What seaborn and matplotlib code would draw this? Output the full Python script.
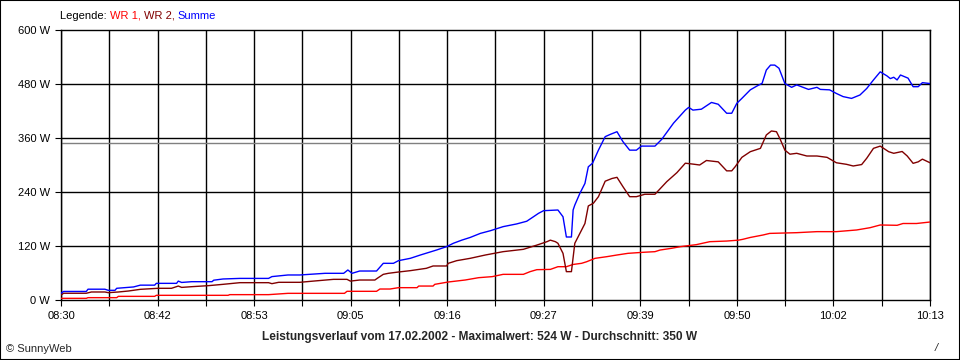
import numpy as np
import pandas as pd
import matplotlib
matplotlib.use("Agg")
import matplotlib.pyplot as plt
from matplotlib.patches import Rectangle
import seaborn as sns

# Minutes after 08:30 and power in W
wr1_min = [0, 3.0, 3.2, 6.6, 6.8, 11.1, 11.3, 19.8, 20.0, 24.6, 26.9, 28.3, 33.6, 33.9, 37.4,
           37.8, 39.0, 40.0, 42.2, 42.4, 44.1, 44.3, 45.9, 47.9, 49.5, 51.1, 52.4, 54.8, 55.6,
           56.4, 58.0, 58.9, 59.9, 60.7, 61.7, 62.3, 63.3, 64.7, 65.9, 67.2, 69.0, 70.4, 71.0,
           72.4, 73.4, 75.3, 76.9, 78.9, 80.3, 80.8, 81.7, 83.2, 84.0, 87.2, 89.6, 91.9, 94.3,
           95.9, 97.1, 99.1, 99.8, 101.4, 103]
wr1_w = [3.7, 3.7, 5.2, 5.2, 8.1, 8.1, 10.4, 10.4, 11.9, 11.9, 14.8, 14.8, 14.8, 19.3, 19.3,
         24.4, 24.4, 27.4, 27.4, 31, 31, 34.8, 40, 44.4, 49.6, 51.9, 57, 57, 63,
         67.4, 68, 74, 74, 79, 81.5, 85, 92.6, 96.3, 100, 103.7, 106, 107.4, 111,
         115, 118.5, 123, 129.6, 131, 133, 134.8, 139, 144.4, 148, 149.6, 151.9, 151.9, 155.6,
         160.7, 166.7, 166, 170, 170, 173.3]

wr2_min = [0, 0.3, 3.0, 3.6, 5.2, 5.6, 6.8, 8.0, 9.4, 11.5, 13.1, 13.9, 14.3, 15.5, 17.5, 19.2,
           21.2, 24.6, 25.0, 25.8, 28.3, 29.9, 32.3, 33.9, 34.3, 35.4, 37.2, 37.6, 38.2, 38.8,
           40.0, 41.4, 43.3, 44.1, 45.7, 45.9, 46.9, 48.5, 50.3, 52.4, 54.8, 56.4, 57.6, 58.0,
           58.6, 58.9, 59.5, 59.9, 60.5, 60.9, 61.5, 62.1, 62.5, 63.1, 63.7, 64.5, 65.3, 65.9,
           66.6, 67.4, 68.2, 69.2, 70.4, 71.8, 73.0, 74.0, 74.9, 75.7, 76.5, 77.9, 78.9, 79.5,
           79.9, 80.7, 81.7, 82.9, 83.6, 84.2, 84.8, 85.2, 85.8, 86.4, 87.2, 88.4, 89.6, 90.8,
           91.9, 93.1, 93.9, 94.9, 95.5, 96.3, 97.1, 98.1, 98.7, 99.7, 100.3, 101.0, 101.6,
           102.1, 103]
wr2_w = [11, 15, 15, 17.8, 17.8, 16.3, 17.8, 20, 23.7, 26, 26, 31, 28, 29.6, 31.9, 34.8,
         38.5, 38.5, 36.3, 39.3, 39.3, 42, 45.9, 45.9, 42, 44.4, 44.4, 49.6, 57, 59.3,
         62.2, 65.2, 70.4, 75.6, 75.6, 81.5, 87.4, 92.6, 100, 107.4, 112.6, 122, 129.6, 133,
         129.6, 126, 103.7, 63, 63, 126, 148, 170, 209, 215, 229.6, 264, 270, 272.6,
         252, 229.6, 229.6, 235, 235, 263, 283, 304, 302, 300, 310, 307, 287, 287,
         296, 317, 329.6, 337, 366.7, 375.6, 374, 359, 333, 324, 326, 320, 320, 317,
         305, 301.5, 297.8, 301, 315, 337, 342, 329.6, 326, 330, 320, 303.7, 307,
         313, 305]

summe_min = [0, 0.3, 3.0, 3.2, 5.2, 5.6, 6.4, 6.6, 8.6, 9.4, 11.1, 11.3, 13.7, 13.9, 14.3, 15.5,
             17.9, 18.1, 19.2, 21.2, 24.6, 25.0, 26.9, 28.3, 31.3, 33.5, 34.0, 34.5, 35.4,
             37.4, 38.2, 39.4, 40.0, 41.4, 42.6, 44.5, 45.7, 46.5, 47.5, 48.5, 49.7, 50.9,
             52.4, 54.0, 55.2, 56.0, 56.6, 57.2, 58.9, 59.5, 59.9, 60.5, 60.7, 60.9, 61.5,
             62.1, 62.5, 63.0, 63.7, 64.5, 65.1, 65.9, 66.6, 67.4, 68.2, 68.8, 70.4, 71.2,
             72.6, 74.0, 74.4, 74.9, 75.9, 77.1, 77.9, 78.9, 79.5, 80.1, 80.7, 81.7, 82.5,
             83.1, 83.6, 84.1, 84.6, 85.1, 85.8, 86.6, 87.2, 88.6, 89.6, 90.0, 91.1, 91.9,
             92.7, 93.7, 94.7, 95.5, 96.3, 97.1, 97.9, 98.3, 98.7, 99.1, 99.5, 100.4, 101.0,
             101.6, 102.1, 103]
summe_w = [15, 19, 19, 24, 24, 21.5, 21.5, 26, 29, 33, 33, 37, 37, 42, 39, 40.7,
           40.7, 44, 46.7, 48, 48, 52, 55.6, 55.6, 59.3, 59.3, 66.7, 59.3, 64.4,
           64.4, 81.5, 81.5, 87.4, 92.6, 100, 111, 118.5, 126, 133, 139, 148, 154,
           163, 169, 175, 185, 192.6, 198.5, 200, 185, 140, 140, 200, 211, 237,
           259, 296, 304, 333, 363, 368, 374, 352, 333, 333, 342, 342, 357,
           393, 422, 428, 422, 424, 439, 435, 415, 415, 437, 448, 467, 475.6,
           481.5, 511, 522, 522, 515, 481, 472.6, 478, 468, 472.6, 468, 467, 459,
           452, 448, 455.6, 470, 489, 507, 498, 492, 495, 489, 500, 493, 474,
           474, 483, 481]

time_labels = ["08:30", "08:42", "08:53", "09:05", "09:16", "09:27", "09:39", "09:50", "10:02", "10:13"]
total_min = 103
average_w = 350
title = "Leistungsverlauf vom 17.02.2002 - Maximalwert: 524 W - Durchschnitt: 350 W"

df = pd.concat([
    pd.DataFrame({"min": wr1_min, "W": wr1_w, "serie": "WR 1"}),
    pd.DataFrame({"min": wr2_min, "W": wr2_w, "serie": "WR 2"}),
    pd.DataFrame({"min": summe_min, "W": summe_w, "serie": "Summe"}),
])
colors = {"WR 1": "#ff0000", "WR 2": "#800000", "Summe": "#0000ff"}

sns.set_theme(style="white")
plt.rcParams["font.family"] = ["Liberation Sans", "DejaVu Sans"]
plt.rcParams["font.size"] = 8

fig = plt.figure(figsize=(9.6, 3.6), dpi=100)
ax = fig.add_axes([61 / 960, 1 - 300 / 360, 869 / 960, 270 / 360])

# grid first, black like the original
for v in np.linspace(0, total_min, 19):
    ax.axvline(v, color="black", lw=1.0, zorder=1)
for h in range(120, 600, 120):
    ax.axhline(h, color="black", lw=1.0, zorder=1)
ax.axhline(average_w, color="#808080", lw=1.0, zorder=1)

for name in ["WR 1", "WR 2", "Summe"]:
    sns.lineplot(data=df[df["serie"] == name], x="min", y="W", color=colors[name],
                 lw=1.0, ax=ax, zorder=3, estimator=None, sort=False)

ax.set_xlim(0, total_min)
ax.set_ylim(0, 600)
ax.set_xlabel("")
ax.set_ylabel("")
for s in ax.spines.values():
    s.set_color("black")
    s.set_linewidth(1.0)

xt = np.linspace(0, total_min, 19)
xl = [time_labels[i // 2] if i % 2 == 0 else "" for i in range(19)]
ax.set_xticks(xt)
ax.set_xticklabels(xl)
ax.set_yticks(range(0, 601, 120))
ax.set_yticklabels([f"{v} W" for v in range(0, 601, 120)])
ax.tick_params(axis="both", direction="out", length=4, width=0.8, color="black",
               labelsize=8, labelcolor="black", pad=4, bottom=True, left=True)

# multicolour legend line above the plot
t = fig.text(60 / 960, 1 - 16 / 360, "Legende: ", color="black", fontsize=8, va="center")
for name, label in [("WR 1", "WR 1, "), ("WR 2", "WR 2, "), ("Summe", "Summe")]:
    t = ax.annotate(label, xycoords=t, xy=(1, 0), va="bottom", color=colors[name], fontsize=8)

fig.text(0.5, 1 - 337 / 360, title, ha="center", va="center", fontsize=8.6, fontweight="bold")
fig.text(6 / 960, 1 - 349 / 360, "\u00a9 SunnyWeb", ha="left", va="center", fontsize=8)
fig.text(936 / 960, 1 - 348 / 360, "/", ha="center", va="center", fontsize=8, style="italic")

fig.patches.append(Rectangle((0, 0), 1, 1, transform=fig.transFigure, fill=False,
                             edgecolor="black", lw=1.5))

plt.savefig("out.png", dpi=100, facecolor="white")
